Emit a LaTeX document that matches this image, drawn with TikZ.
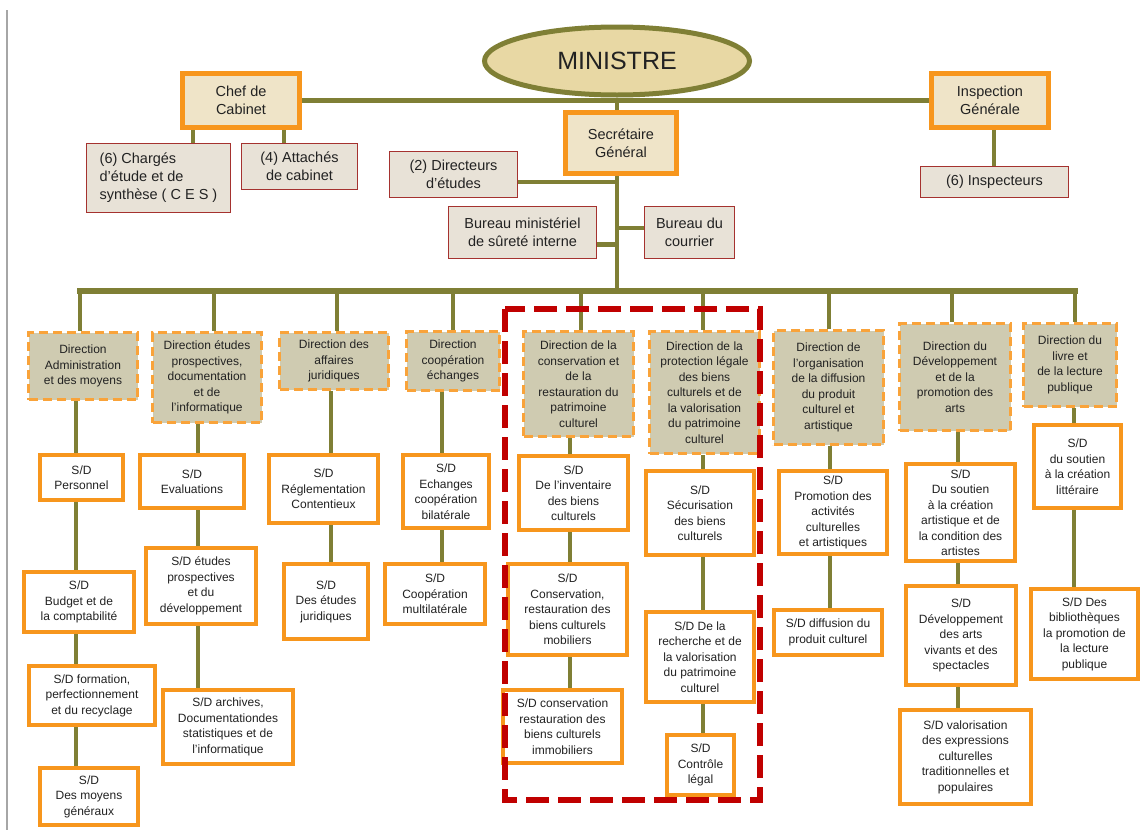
\documentclass[tikz,border=0pt]{standalone}
\usepackage{fontspec}
\setmainfont{Liberation Sans}
\usetikzlibrary{shapes.geometric,calc}
\definecolor{linkolive}{HTML}{7F7F35}
\definecolor{boxorange}{HTML}{F7961D}
\definecolor{dirorange}{HTML}{F9A33A}
\definecolor{dirfill}{HTML}{CFCBB1}
\definecolor{parch}{HTML}{EFE4C8}
\definecolor{ellfill}{HTML}{E8D8A4}
\definecolor{staffred}{HTML}{A5322F}
\definecolor{stafffill}{HTML}{E8E2D7}
\definecolor{txt}{HTML}{222222}
\definecolor{grpred}{HTML}{C00000}
\pgfdeclarelayer{background}
\pgfsetlayers{background,main}
\tikzset{
  dirbox/.style={draw=dirorange, line width=3pt, dash pattern=on 9pt off 5pt,
    fill=dirfill, align=center, text=txt, inner sep=0pt,
    font=\fontsize{12}{15.5}\selectfont},
  sdbox/.style={draw=boxorange, line width=4pt, fill=white, align=center,
    text=txt, inner sep=0pt, font=\fontsize{12}{15.5}\selectfont},
  topbox/.style={draw=boxorange, line width=5pt, fill=parch, align=center,
    text=txt, inner sep=0pt, font=\fontsize{14.5}{18}\selectfont},
  staffbox/.style={draw=staffred, line width=1.5pt, fill=stafffill, align=center,
    text=txt, inner sep=0pt, font=\fontsize{14.5}{18}\selectfont},
  link/.style={draw=linkolive, line width=4pt},
  buslink/.style={draw=linkolive, line width=6pt, line cap=rect},
  grpbox/.style={draw=grpred, line width=6pt, dash pattern=on 23pt off 9pt}
}
\begin{document}
\begin{tikzpicture}[x=1pt,y=-1pt]
\useasboundingbox (0,0) rectangle (1143,830);
\draw[gray!70, line width=1.5pt] (7,10) -- (7,830);

% top level
\node[ellipse, draw=linkolive, line width=5pt, fill=ellfill, text=txt,
  minimum width=265pt, minimum height=68pt, inner sep=0pt,
  font=\fontsize{25}{28}\selectfont] (minister) at (617,61) {MINISTRE};
\node[topbox, minimum width=117pt, minimum height=54pt] (chef) at (241,100.5) {Chef de\\Cabinet};
\node[topbox, minimum width=117pt, minimum height=54pt] (insp) at (990,100.5) {Inspection\\Générale};
\node[topbox, minimum width=111pt, minimum height=61pt] (sg) at (621,143) {Secrétaire\\Général};

% staff units
\node[staffbox, align=left, minimum width=144pt, minimum height=69pt] (ces) at (158.5,178) {(6) Chargés\\d’étude et de\\synthèse ( C E S )};
\node[staffbox, minimum width=116pt, minimum height=46pt] (att) at (299.5,166.5) {(4) Attachés\\de cabinet};
\node[staffbox, minimum width=128pt, minimum height=46pt] (dir2) at (453.5,174.5) {(2) Directeurs\\d’études};
\node[staffbox, minimum width=148pt, minimum height=52pt] (bms) at (522.5,232.5) {Bureau ministériel\\de sûreté interne};
\node[staffbox, minimum width=90pt, minimum height=52pt] (bdc) at (689.5,232.5) {Bureau du\\courrier};
\node[staffbox, minimum width=148pt, minimum height=31pt] (ins) at (994.5,182) {(6) Inspecteurs};

% directions
\node[dirbox, minimum width=109pt, minimum height=67pt] (d1) at (83,366) {Direction\\Administration\\et des moyens};
\node[dirbox, minimum width=109pt, minimum height=90pt] (d2) at (207,377.5) {Direction études\\prospectives,\\documentation\\et de\\l'informatique};
\node[dirbox, minimum width=109pt, minimum height=57pt] (d3) at (334,361) {Direction des\\affaires\\juridiques};
\node[dirbox, minimum width=93pt, minimum height=59pt] (d4) at (453,361) {Direction\\coopération\\échanges};
\node[dirbox, minimum width=110pt, minimum height=105pt] (d5) at (578.5,384) {Direction de la\\conservation et\\de la\\restauration du\\patrimoine\\culturel};
\node[dirbox, minimum width=110pt, minimum height=122pt] (d6) at (704.5,392.5) {Direction de la\\protection légale\\des biens\\culturels et de\\la valorisation\\du patrimoine\\culturel};
\node[dirbox, minimum width=110pt, minimum height=114pt] (d7) at (828.5,387.5) {Direction de\\l'organisation\\de la diffusion\\du produit\\culturel et\\artistique};
\node[dirbox, minimum width=111pt, minimum height=107pt] (d8) at (955,377) {Direction du\\Développement\\et de la\\promotion des\\arts};
\node[dirbox, minimum width=93pt, minimum height=83pt] (d9) at (1070,365) {Direction du\\livre et\\de la lecture\\publique};

% sub-directions
\node[sdbox, minimum width=83pt, minimum height=45pt] (s11) at (81.5,477.5) {S/D\\Personnel};
\node[sdbox, minimum width=110pt, minimum height=60pt] (s12) at (79,602) {S/D\\Budget et de\\la comptabilité};
\node[sdbox, minimum width=126pt, minimum height=59pt] (s13) at (92,695.5) {S/D formation,\\perfectionnement\\et du recyclage};
\node[sdbox, minimum width=98pt, minimum height=57pt] (s14) at (89,796.5) {S/D\\Des moyens\\généraux};

\node[sdbox, minimum width=104pt, minimum height=53pt] (s21) at (192,481.5) {S/D\\Evaluations};
\node[sdbox, minimum width=110pt, minimum height=76pt] (s22) at (201,586) {S/D études\\prospectives\\et du\\développement};
\node[sdbox, minimum width=130pt, minimum height=74pt] (s23) at (228,727) {S/D archives,\\Documentationdes\\statistiques et de\\l'informatique};

\node[sdbox, minimum width=109pt, minimum height=68pt] (s31) at (323.5,489) {S/D\\Réglementation\\Contentieux};
\node[sdbox, minimum width=84pt, minimum height=75pt] (s32) at (326,601.5) {S/D\\Des études\\juridiques};

\node[sdbox, minimum width=86pt, minimum height=73pt] (s41) at (446,491.5) {S/D\\Echanges\\coopération\\bilatérale};
\node[sdbox, minimum width=100pt, minimum height=60pt] (s42) at (435,594) {S/D\\Coopération\\multilatérale};

\node[sdbox, minimum width=109pt, minimum height=74pt] (s51) at (573.5,493) {S/D\\De l'inventaire\\des biens\\culturels};
\node[sdbox, minimum width=119pt, minimum height=91pt] (s52) at (567.5,609.5) {S/D\\Conservation,\\restauration des\\biens culturels\\mobiliers};
\node[sdbox, minimum width=119pt, minimum height=73pt] (s53) at (562.5,726.5) {S/D conservation\\restauration des\\biens culturels\\immobiliers};

\node[sdbox, minimum width=108pt, minimum height=84pt] (s61) at (700,513) {S/D\\Sécurisation\\des biens\\culturels};
\node[sdbox, minimum width=108pt, minimum height=90pt] (s62) at (700,657) {S/D De la\\recherche et de\\la valorisation\\du patrimoine\\culturel};
\node[sdbox, minimum width=67pt, minimum height=60pt] (s63) at (700.5,765) {S/D\\Contrôle\\légal};

\node[sdbox, minimum width=108pt, minimum height=83pt] (s71) at (833,512.5) {S/D\\Promotion des\\activités\\culturelles\\et artistiques};
\node[sdbox, minimum width=108pt, minimum height=45pt] (s72) at (828,632.5) {S/D diffusion du\\produit culturel};

\node[sdbox, minimum width=109pt, minimum height=97pt] (s81) at (960.5,512.5) {S/D\\Du soutien\\à la création\\artistique et de\\la condition des\\artistes};
\node[sdbox, minimum width=110pt, minimum height=99pt] (s82) at (961,635.5) {S/D\\Développement\\des arts\\vivants et des\\spectacles};
\node[sdbox, minimum width=131pt, minimum height=94pt] (s83) at (965.5,757) {S/D valorisation\\des expressions\\culturelles\\traditionnelles et\\populaires};

\node[sdbox, minimum width=87pt, minimum height=83pt] (s91) at (1077.5,466.5) {S/D\\du soutien\\à la création\\littéraire};
\node[sdbox, minimum width=107pt, minimum height=90pt] (s92) at (1084.5,634) {S/D Des\\bibliothèques\\la promotion de\\la lecture\\publique};

% connectors, kept behind the boxes
\begin{pgfonlayer}{background}
  \coordinate (hub) at (617,291);
  \draw[link] (minister.south) -- (minister.south |- hub);
  \draw[link, line width=5pt] (chef.east) -- (insp.west);
  \draw[link] ([xshift=4pt]insp.south) -- ([xshift=4pt]insp.south |- ins.north);
  \draw[link] ([xshift=-48pt]chef.south) -- ([xshift=-48pt]chef.south |- ces.north);
  \draw[link] ([xshift=43pt]chef.south) -- ([xshift=43pt]chef.south |- att.north);
  \coordinate (dirj) at ($(dir2.east)+(0,7.5)$);
  \coordinate (bmsj) at ($(bms.east)+(0,11.5)$);
  \coordinate (bdcj) at ($(bdc.west)+(0,-4.5)$);
  \draw[link] (dirj) -- (dirj -| hub);
  \draw[link, line width=5pt] (bmsj) -- (bmsj -| hub);
  \draw[link] (bdcj) -- (bdcj -| hub);

  % main bus and drops to the directions
  \draw[buslink] ([xshift=-3pt]d1.north |- hub) -- ([xshift=5pt]d9.north |- hub);
  \foreach \d/\s in {d1/-3,d2/7,d3/3,d4/0,d5/2.5,d6/-1.5,d7/0.5,d8/-3,d9/5}
    \draw[link] ([xshift=\s pt]\d.north |- hub) -- ([xshift=\s pt]\d.north);

  % column trunks
  \coordinate (c1) at (76,0);
  \coordinate (c2) at (198,0);
  \coordinate (c3) at (331,0);
  \coordinate (c4) at (442,0);
  \coordinate (c5) at (570,0);
  \coordinate (c6) at (703,0);
  \coordinate (c7) at (830,0);
  \coordinate (c8) at (958,0);
  \coordinate (c9) at (1074,0);
  \draw[link] (d1.south -| c1) -- (s14.north -| c1);
  \draw[link] (d2.south -| c2) -- (s23.north -| c2);
  \draw[link] (d3.south -| c3) -- (s32.north -| c3);
  \draw[link] (d4.south -| c4) -- (s42.north -| c4);
  \draw[link] (d5.south -| c5) -- (s53.north -| c5);
  \draw[link] (d6.south -| c6) -- (s63.north -| c6);
  \draw[link] (d7.south -| c7) -- (s72.north -| c7);
  \draw[link] (d8.south -| c8) -- (s83.north -| c8);
  \draw[link] (d9.south -| c9) -- (s92.north -| c9);
\end{pgfonlayer}

% grouping frame round the heritage directorates
\draw[grpbox] (505,309) rectangle (760,800);
\end{tikzpicture}
\end{document}
